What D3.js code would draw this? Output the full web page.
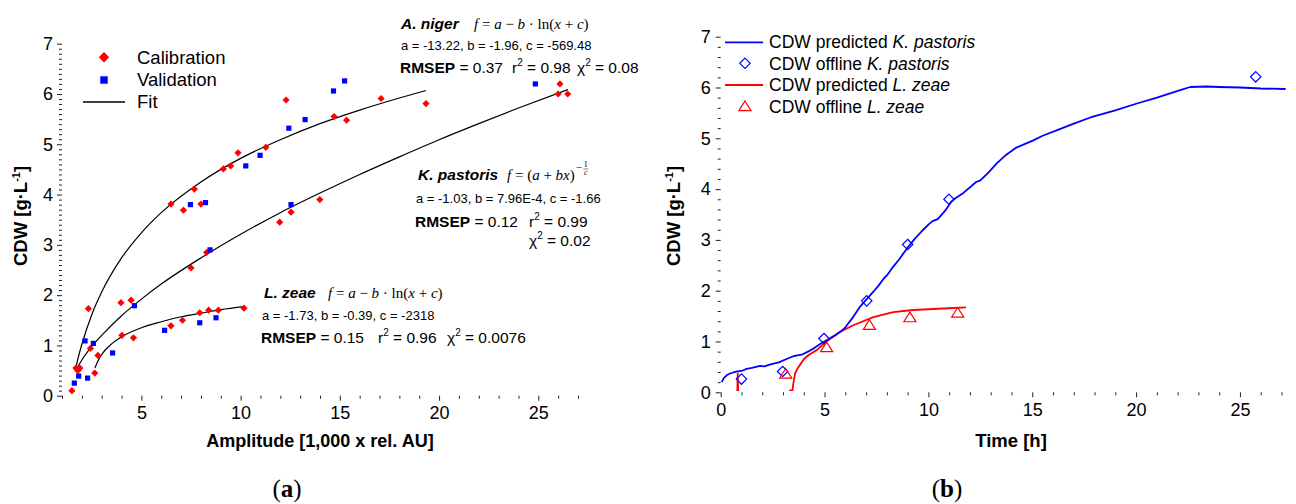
<!DOCTYPE html>
<html><head><meta charset="utf-8">
<script src="https://cdn.jsdelivr.net/npm/d3@7"></script>
<style>
body{margin:0;background:#fff}
svg{display:block}
text{font-family:Arial,"Liberation Sans",sans-serif;fill:#000}
</style></head>
<body><svg id="c" width="1296" height="504"></svg>
<script>
// ---------- Panel (a) data ----------
const calibration = [[1.5,0.1],[1.7,0.55],[1.8,0.5],[1.9,0.55],[2.33,1.73],[2.43,0.94],[2.65,0.45],[2.81,0.8],
  [3.97,1.85],[4.02,1.2],[4.48,1.9],[4.6,1.15],[6.49,1.39],[7.07,1.5],[7.5,2.54],[7.94,1.65],[8.29,2.85],
  [8.39,1.7],[8.88,1.7],[10.17,1.74],[6.49,3.81],[7.12,3.69],[7.67,4.11],[8.0,3.81],[9.13,4.51],[9.5,4.57],
  [9.87,4.83],[11.27,4.94],[11.97,3.45],[12.29,5.88],[12.54,3.65],[13.99,3.9],[14.71,5.55],[15.34,5.48],
  [17.08,5.91],[19.34,5.81],[26.09,6.2],[26.0,6.0],[26.48,6.0]];
const validation = [[1.62,0.25],[1.84,0.39],[2.16,1.09],[2.29,0.35],[2.58,1.04],[3.55,0.85],[4.65,1.79],
  [6.17,1.3],[7.94,1.45],[8.46,2.9],[8.76,1.55],[7.47,3.8],[8.23,3.84],[10.26,4.57],[10.98,4.78],[12.43,5.32],
  [12.54,3.8],[13.25,5.49],[14.68,6.06],[15.24,6.26],[24.85,6.2]];
const fitNiger = [[1.68,0.52],[1.8,0.73],[2.0,1.02],[2.5,1.61],[3,2.06],[4,2.74],[5,3.24],[6,3.64],[8,4.25],
  [10,4.72],[12,5.09],[14,5.41],[16,5.68],[18,5.92],[19.34,6.07]];
const fitPastoris = [[1.72,0.52],[2,0.71],[2.5,0.98],[3,1.2],[4,1.59],[5,1.92],[6,2.22],[8,2.74],[10,3.21],
  [12,3.64],[14,4.03],[16,4.4],[18,4.75],[20,5.09],[22,5.41],[24,5.72],[26.5,6.09]];
const fitZeae = [[2.66,0.55],[2.7,0.59],[2.8,0.68],[3,0.82],[3.5,1.03],[4,1.17],[5,1.35],[6,1.47],[7,1.57],
  [8,1.64],[9,1.71],[10.17,1.77]];
const ampTicks = [5,10,15,20,25];
const cdwTicks = [0,1,2,3,4,5,6,7];

// ---------- Panel (b) data ----------
const predPastoris = [[0.05,0.2],[0.15,0.28],[0.3,0.34],[0.45,0.37],[0.6,0.39],[0.8,0.41],[1.0,0.42],[1.25,0.46],
  [1.5,0.48],[1.9,0.52],[2.1,0.51],[2.4,0.55],[2.8,0.59],[3.2,0.66],[3.5,0.71],[3.9,0.74],[4.2,0.8],[4.5,0.87],
  [4.9,0.98],[5.2,1.05],[5.5,1.12],[5.8,1.2],[6.0,1.28],[6.3,1.44],[6.7,1.68],[7.0,1.82],[7.35,1.98],[7.6,2.1],
  [7.85,2.24],[8.0,2.3],[8.3,2.47],[8.6,2.62],[9.0,2.85],[9.3,3.0],[9.7,3.18],[10.0,3.3],[10.2,3.37],[10.45,3.41],
  [10.8,3.57],[11.1,3.75],[11.3,3.82],[11.7,3.93],[12.3,4.14],[12.5,4.17],[12.9,4.33],[13.3,4.51],[13.7,4.66],
  [14.2,4.81],[14.6,4.88],[15.05,4.96],[15.5,5.05],[16.2,5.16],[17,5.29],[17.8,5.41],[19,5.55],[20,5.68],
  [21,5.8],[21.6,5.88],[22.2,5.96],[22.6,6.01],[23.4,6.02],[24,6.01],[25,6.0],[26,5.98],[27.2,5.97]];
const offlinePastoris = [[1.0,0.26],[2.98,0.41],[4.97,1.06],[7.03,1.8],[9.0,2.91],[10.99,3.8],[25.76,6.21]];
const predZeae = [[0.5,0],[0.8,0],[0.82,0.37],[0.84,0],[3.3,0],[3.35,0.04],[3.45,0.03],[3.5,0.18],[3.58,0.37],
  [3.7,0.47],[3.82,0.54],[4.0,0.65],[4.22,0.73],[4.62,0.83],[5.1,1.0],[5.74,1.19],[6.38,1.32],[7.35,1.48],
  [8.31,1.58],[9.27,1.62],[10.72,1.65],[11.81,1.67]];
const offlineZeae = [[3.13,0.36],[5.1,0.88],[7.16,1.32],[9.11,1.47],[11.41,1.56]];
const timeTicks = [0,5,10,15,20,25];

const svg = d3.select("#c");
const RED = "#ff0000", BLUE = "#0000ff";
const diamond = r => `M0,${-r}L${r},0L0,${r}L${-r},0Z`;
const tri = r => `M0,${-r}L${r*1.1},${r*0.75}L${-r*1.1},${r*0.75}Z`;

function range(a,b,s){const o=[];for(let v=a;v<=b+1e-9;v+=s)o.push(+v.toFixed(4));return o;}

function drawAxes(g, x, y, xMajor, xMinor, yMajor, yMinor, fs, yPad){
  const h = y.range()[0];
  const gx = g.append("g").attr("transform",`translate(0,${h})`);
  gx.call(d3.axisBottom(x).tickValues(xMinor.filter(v=>!xMajor.includes(v))).tickSize(3).tickFormat(""));
  gx.append("g").call(d3.axisBottom(x).tickValues(xMajor).tickSize(5).tickPadding(6).tickFormat(d3.format("d")));
  const gy = g.append("g").attr("transform",`translate(${x.range()[0]},0)`);
  gy.call(d3.axisLeft(y).tickValues(yMinor.filter(v=>!yMajor.some(m=>Math.abs(m-v)<1e-6))).tickSize(3).tickFormat(""));
  gy.append("g").call(d3.axisLeft(y).tickValues(yMajor).tickSize(5).tickPadding(yPad).tickFormat(d3.format("d")));
  g.selectAll(".domain").attr("stroke","#222");
  g.selectAll(".tick line").attr("stroke","#222");
  g.selectAll(".tick text").style("font-size",fs+"px").style("font-family","Arial, 'Liberation Sans', sans-serif").attr("fill","#000");
  gx.selectAll("g > g > .domain").remove();
  gy.selectAll("g > g > .domain").remove();
}

function yLabel(x, cy){
  const t = svg.append("text").attr("transform",`translate(${x},${cy}) rotate(-90)`)
    .attr("text-anchor","middle").style("font-weight","bold").style("font-size","18.5px");
  t.append("tspan").text("CDW [g·L");
  t.append("tspan").attr("dy",-7).style("font-size","11px").text("-1");
  t.append("tspan").attr("dy",7).text("]");
}

// ================= Panel (a) =================
const xa = d3.scaleLinear().domain([1,27]).range([62,578]);
const ya = d3.scaleLinear().domain([0,7]).range([395.7,43.7]);
const ga = svg.append("g");

const lineA = d3.line().x(d=>xa(d[0])).y(d=>ya(d[1])).curve(d3.curveMonotoneX);
[fitNiger, fitPastoris, fitZeae].forEach(f=>{
  ga.append("path").attr("d",lineA(f)).attr("fill","none").attr("stroke","#000").attr("stroke-width",1.2);
});
drawAxes(ga.append("g"), xa, ya, ampTicks, range(1,27,1), cdwTicks, range(0,7,0.1), 18, 4);
ga.selectAll(".cal").data(calibration).join("path").attr("class","cal")
  .attr("transform",d=>`translate(${xa(d[0])},${ya(d[1])})`).attr("d",diamond(3.6)).attr("fill",RED);
ga.selectAll(".val").data(validation).join("rect").attr("class","val")
  .attr("x",d=>xa(d[0])-2.6).attr("y",d=>ya(d[1])-2.6).attr("width",5.2).attr("height",5.2).attr("fill",BLUE);

// legend (a)
svg.append("path").attr("transform","translate(104,57.3)").attr("d",diamond(5.2)).attr("fill",RED);
svg.append("rect").attr("x",100.3).attr("y",76.3).attr("width",7.4).attr("height",7.4).attr("fill",BLUE);
svg.append("line").attr("x1",83).attr("x2",125).attr("y1",102).attr("y2",102).attr("stroke","#000").attr("stroke-width",1.5);
[["Calibration",63.5],["Validation",86],["Fit",108.3]].forEach(([s,y])=>{
  svg.append("text").attr("x",137).attr("y",y).style("font-size","18.5px").text(s);
});

yLabel(27, 216);
svg.append("text").attr("x",320).attr("y",447).attr("text-anchor","middle")
  .style("font-weight","bold").style("font-size","18px").text("Amplitude [1,000 x rel. AU]");
function panelTag(cx, txt){
  const t = svg.append("text").attr("x",cx).attr("y",497).attr("text-anchor","middle")
    .style("font-family","'Liberation Serif','Times New Roman',serif").style("font-size","25px");
  t.append("tspan").text("(");
  t.append("tspan").style("font-weight","bold").text(txt);
  t.append("tspan").text(")");
}
panelTag(287,"a");

// ---- annotations ----
const SERIF = "'Liberation Serif','DejaVu Serif',serif";
function formulaLog(x,y){
  const t = svg.append("text").attr("x",x).attr("y",y).style("font-family",SERIF).style("font-size","15px").attr("fill","#333");
  const parts = [["f",1],[" = ",0],["a",1],[" − ",0],["b",1],[" · ln(",0],["x",1],[" + ",0],["c",1],[")",0]];
  parts.forEach(([s,i])=>t.append("tspan").style("font-style",i?"italic":"normal").text(s));
  return t;
}
function boldItal(x,y,s){
  svg.append("text").attr("x",x).attr("y",y).style("font-weight","bold").style("font-style","italic").style("font-size","15.5px").text(s);
}
function small(x,y,s){ svg.append("text").attr("x",x).attr("y",y).style("font-size","13px").text(s); }
function rmsep(x,y,v){
  const t = svg.append("text").attr("x",x).attr("y",y).style("font-size","15.5px");
  t.append("tspan").style("font-weight","bold").text("RMSEP");
  t.append("tspan").text(" = "+v);
}
function sq(x,y,sym,v){
  const t = svg.append("text").attr("x",x).attr("y",y).style("font-size","15.5px");
  t.append("tspan").text(sym);
  t.append("tspan").attr("dy",-7).style("font-size","10px").text("2");
  t.append("tspan").attr("dy",7).text(" = "+v);
}

// A. niger
boldItal(401,29,"A. niger");
formulaLog(474,29);
small(401,50,"a = -13.22, b = -1.96, c = -569.48");
rmsep(400,73,"0.37");
sq(512,73,"r","0.98");
sq(577,73,"χ","0.08");

// K. pastoris
boldItal(418,180,"K. pastoris");
{
  const t = svg.append("text").attr("x",507).attr("y",180).style("font-family",SERIF).style("font-size","15px").attr("fill","#333");
  [["f",1],[" = (",0],["a",1],[" + ",0],["bx",1],[")",0]].forEach(([s,i])=>t.append("tspan").style("font-style",i?"italic":"normal").text(s));
  const w = t.node().getComputedTextLength();
  const ex = 507 + w + 1;
  svg.append("text").attr("x",ex).attr("y",171).style("font-family",SERIF).style("font-size","11px").attr("fill","#333").text("−");
  svg.append("text").attr("x",ex+10).attr("y",167).attr("text-anchor","middle").style("font-family",SERIF).style("font-size","8px").attr("fill","#333").text("1");
  svg.append("line").attr("x1",ex+7.5).attr("x2",ex+12.5).attr("y1",169).attr("y2",169).attr("stroke","#333").attr("stroke-width",0.6);
  svg.append("text").attr("x",ex+10).attr("y",175).attr("text-anchor","middle").style("font-family",SERIF).style("font-size","8px").style("font-style","italic").attr("fill","#333").text("c");
}
small(416,203,"a = -1.03, b = 7.96E-4, c = -1.66");
rmsep(415,227,"0.12");
sq(529,227,"r","0.99");
sq(529,246,"χ","0.02");

// L. zeae
boldItal(264,298,"L. zeae");
formulaLog(328,298);
small(262,320,"a = -1.73, b = -0.39, c = -2318");
rmsep(261,343,"0.15");
sq(378,343,"r","0.96");
sq(447,343,"χ","0.0076");

// ================= Panel (b) =================
const xb = d3.scaleLinear().domain([0,28]).range([720.7,720.7+28*20.77]);
const yb = d3.scaleLinear().domain([0,7]).range([392.3,36.7]);
const gb = svg.append("g");
svg.append("defs").append("clipPath").attr("id","above0").append("rect")
  .attr("x",xb(0)).attr("y",0).attr("width",600).attr("height",yb(0)-1.2);

const lineB = d3.line().x(d=>xb(d[0])).y(d=>yb(d[1]));
gb.append("path").attr("d",lineB(predZeae)).attr("clip-path","url(#above0)").attr("fill","none").attr("stroke",RED).attr("stroke-width",1.8).attr("stroke-linejoin","round");
gb.append("path").attr("d",lineB(predPastoris)).attr("fill","none").attr("stroke",BLUE).attr("stroke-width",1.8).attr("stroke-linejoin","round");
drawAxes(gb.append("g"), xb, yb, timeTicks, range(0,28,1), cdwTicks, range(0,7,0.2), 18, 5);
gb.selectAll(".op").data(offlinePastoris).join("path").attr("class","op")
  .attr("transform",d=>`translate(${xb(d[0])},${yb(d[1])})`).attr("d",diamond(5.2))
  .attr("fill","none").attr("stroke",BLUE).attr("stroke-width",1.2);
gb.selectAll(".oz").data(offlineZeae).join("path").attr("class","oz")
  .attr("transform",d=>`translate(${xb(d[0])},${yb(d[1])})`).attr("d",tri(5.5))
  .attr("fill","none").attr("stroke",RED).attr("stroke-width",1.2);

// legend (b)
svg.append("line").attr("x1",725).attr("x2",763).attr("y1",42.3).attr("y2",42.3).attr("stroke",BLUE).attr("stroke-width",1.8);
svg.append("path").attr("transform","translate(745,63.3)").attr("d",diamond(5.2)).attr("fill","none").attr("stroke",BLUE).attr("stroke-width",1.2);
svg.append("line").attr("x1",725).attr("x2",763).attr("y1",85).attr("y2",85).attr("stroke",RED).attr("stroke-width",1.8);
svg.append("path").attr("transform","translate(745,106.5)").attr("d",tri(5.5)).attr("fill","none").attr("stroke",RED).attr("stroke-width",1.2);
[["CDW predicted ","K. pastoris",48.3],["CDW offline ","K. pastoris",69.5],["CDW predicted ","L. zeae",91],["CDW offline ","L. zeae",112.5]]
  .forEach(([a,b,y])=>{
    const t = svg.append("text").attr("x",769).attr("y",y).style("font-size","17.5px");
    t.append("tspan").text(a);
    t.append("tspan").style("font-style","italic").text(b);
  });

yLabel(680, 216);
svg.append("text").attr("x",1011).attr("y",447).attr("text-anchor","middle")
  .style("font-weight","bold").style("font-size","18.5px").text("Time [h]");
panelTag(947,"b");
</script></body></html>
